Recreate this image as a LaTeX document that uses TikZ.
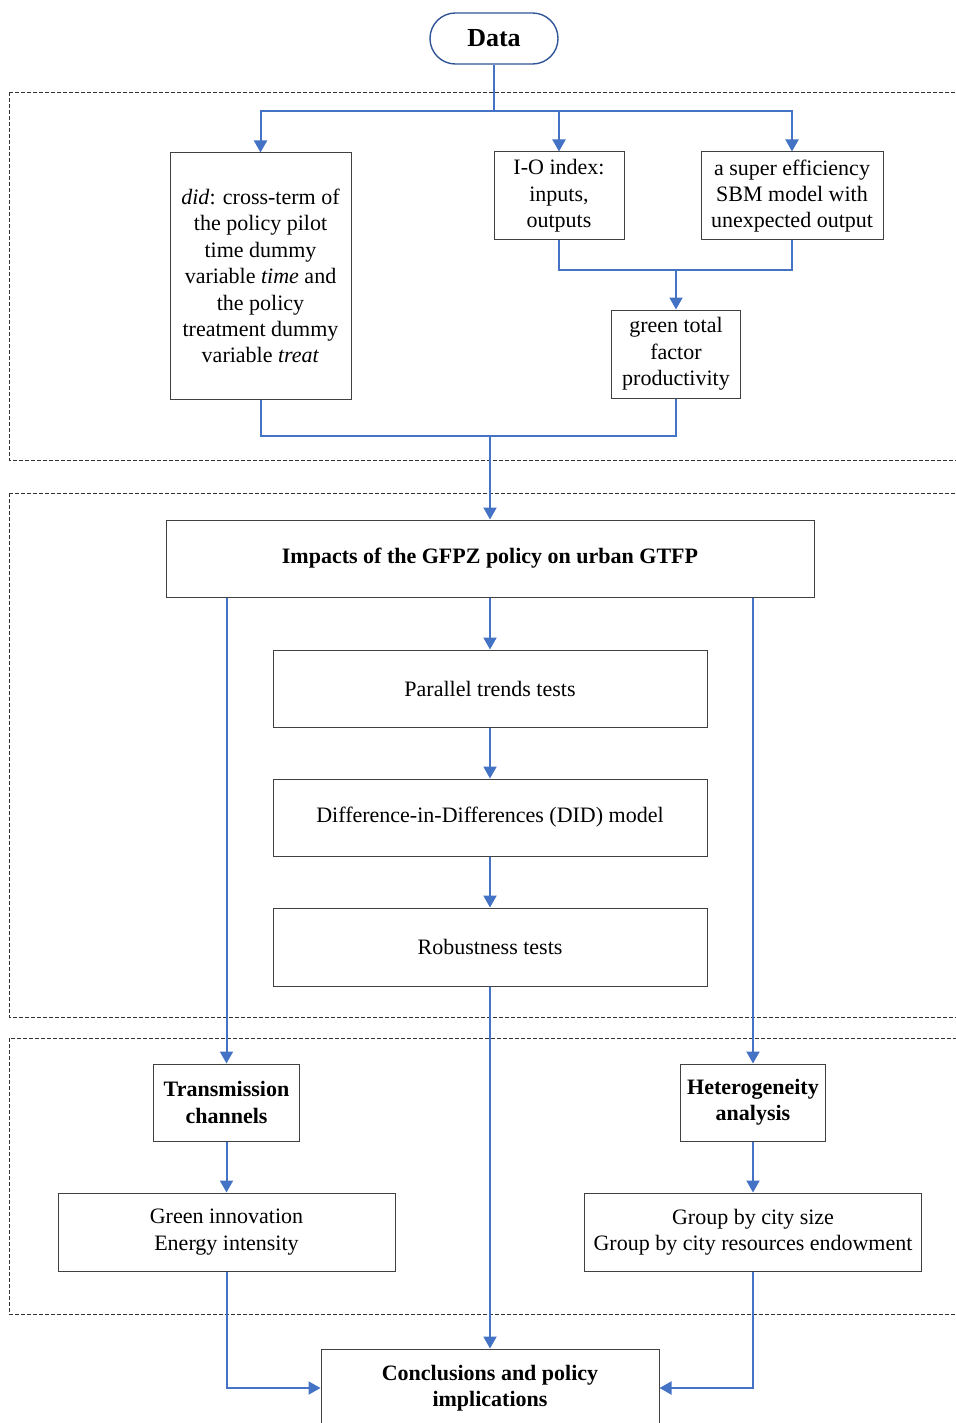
\documentclass[tikz,border=0pt]{standalone}
\usepackage{fontspec}
\setmainfont{Liberation Serif}
\usetikzlibrary{arrows.meta}
\definecolor{flowblue}{HTML}{4472C4}
\definecolor{darkblue}{HTML}{2F5597}

\begin{document}
\begin{tikzpicture}[x=0.5pt,y=-0.5pt,
  font=\fontsize{11}{13.2}\selectfont,
  box/.style={draw=black!75,line width=0.5pt,align=center,inner sep=2pt},
  flow/.style={flowblue,line width=1pt,-{Triangle[width=6.5pt,length=6pt]}},
  link/.style={flowblue,line width=1pt},
  frame/.style={black!80,line width=0.45pt,dash pattern=on 2pt off 1pt}]
\useasboundingbox (0,0) rectangle (955,1423);
\draw[frame] (9,92) rectangle (975,460);
\draw[frame] (9,493) rectangle (975,1017);
\draw[frame] (9,1038) rectangle (975,1314);
\node (data) [draw=darkblue,line width=0.7pt,rounded corners=12.7pt,minimum width=64pt,minimum height=25.5pt,font=\fontsize{13}{15}\selectfont\bfseries] at (494,38.5) {Data};
\node (did) [box,minimum width=90.5pt,minimum height=123pt] at (260.5,276) {\textit{did}: cross-term of\\the policy pilot\\time dummy\\variable \textit{time} and\\the policy\\treatment dummy\\variable \textit{treat}};
\node (io) [box,minimum width=65pt,minimum height=44pt] at (559,196) {I-O index:\\inputs,\\outputs};
\node (sbm) [box,minimum width=91pt,minimum height=44pt] at (792,196) {a super efficiency\\SBM model with\\unexpected output};
\node (gtfp) [box,minimum width=64.5pt,minimum height=44pt] at (676,354) {green total\\factor\\productivity};
\node (impacts) [box,minimum width=324pt,minimum height=38.5pt,font=\fontsize{11}{13.2}\selectfont\bfseries] at (490,558.5) {Impacts of the GFPZ policy on urban GTFP};
\node (parallel) [box,minimum width=217pt,minimum height=38.5pt] at (490,688.5) {Parallel trends tests};
\node (didmodel) [box,minimum width=217pt,minimum height=38.5pt] at (490,817.5) {Difference-in-Differences (DID) model};
\node (robust) [box,minimum width=217pt,minimum height=39pt] at (490,947) {Robustness tests};
\node (trans) [box,minimum width=72.75pt,minimum height=38.5pt,font=\fontsize{11}{13.2}\selectfont\bfseries] at (226.5,1102.5) {Transmission\\channels};
\node (hetero) [box,minimum width=72.75pt,minimum height=38.5pt,font=\fontsize{11}{13.2}\selectfont\bfseries] at (753,1102.5) {Heterogeneity\\analysis};
\node (green) [box,minimum width=168.5pt,minimum height=39pt] at (226.5,1232) {Green innovation\\Energy intensity};
\node (group) [box,minimum width=168.5pt,minimum height=39pt] at (753,1232) {Group by city size\\Group by city resources endowment};
\node (concl) [box,minimum width=169pt,minimum height=39pt,font=\fontsize{11}{13.2}\selectfont\bfseries] at (490,1388) {Conclusions and policy\\implications};
\coordinate (split) at (494,111);
\coordinate (merge1) at (676,270);
\coordinate (merge2) at (490,436);
\draw[flow] (data.south) -- (split) -| (did.north);
\draw[flow] (split) -| (io.north);
\draw[flow] (split) -| (sbm.north);
\draw[link] (io.south) |- (merge1);
\draw[link] (sbm.south) |- (merge1);
\draw[flow] (merge1) -- (gtfp.north);
\draw[link] (did.south) |- (merge2);
\draw[link] (gtfp.south) |- (merge2);
\draw[flow] (merge2) -- (impacts.north);
\draw[flow] (impacts.south) -- (parallel.north);
\draw[flow] (parallel.south) -- (didmodel.north);
\draw[flow] (didmodel.south) -- (robust.north);
\draw[flow] (impacts.south -| trans.north) -- (trans.north);
\draw[flow] (impacts.south -| hetero.north) -- (hetero.north);
\draw[flow] (trans.south) -- (green.north);
\draw[flow] (hetero.south) -- (group.north);
\draw[flow] (robust.south) -- (concl.north);
\draw[flow] (green.south) |- (concl.west);
\draw[flow] (group.south) |- (concl.east);
\end{tikzpicture}
\end{document}
